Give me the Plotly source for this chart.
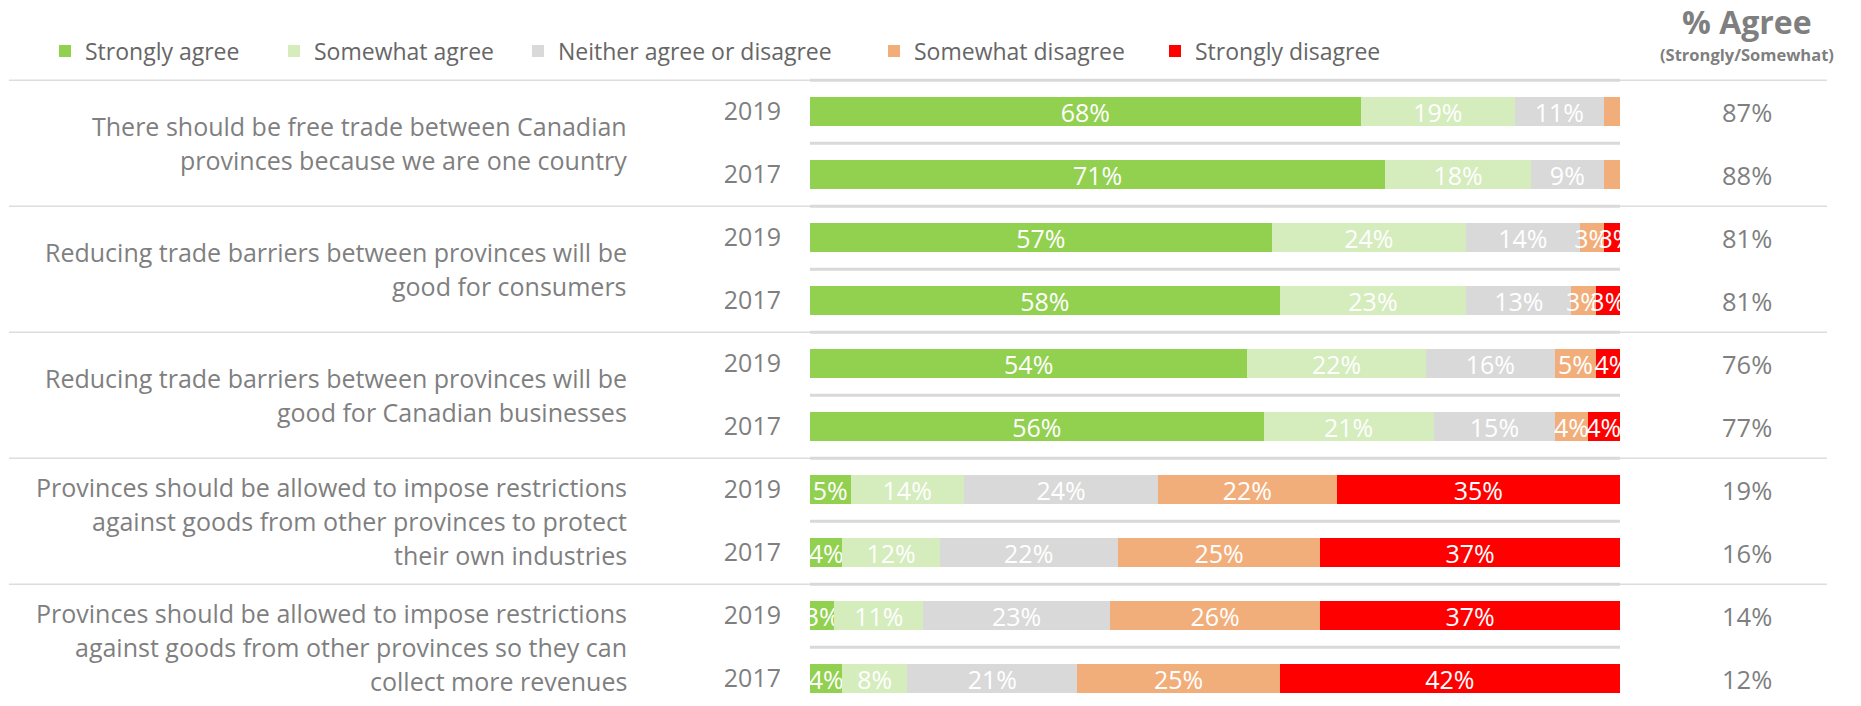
import plotly.graph_objects as go

# ---------------- data ----------------
questions = [
    ["There should be free trade between Canadian", "provinces because we are one country"],
    ["Reducing trade barriers between provinces will be", "good for consumers"],
    ["Reducing trade barriers between provinces will be", "good for Canadian businesses"],
    ["Provinces should be allowed to impose restrictions",
     "against goods from other provinces to protect", "their own industries"],
    ["Provinces should be allowed to impose restrictions",
     "against goods from other provinces so they can", "collect more revenues"],
]
years = ["2019", "2017"] * 5

series_names = ["Strongly agree", "Somewhat agree", "Neither agree or disagree",
                "Somewhat disagree", "Strongly disagree"]
series_colors = ["#92D050", "#D5ECBD", "#D9D9D9", "#F2AE7A", "#FF0000"]

strongly_agree    = [68, 71, 57, 58, 54, 56, 5, 4, 3, 4]
somewhat_agree    = [19, 18, 24, 23, 22, 21, 14, 12, 11, 8]
neither           = [11, 9, 14, 13, 16, 15, 24, 22, 23, 21]
somewhat_disagree = [2, 2, 3, 3, 5, 4, 22, 25, 26, 25]
strongly_disagree = [0, 0, 3, 3, 4, 4, 35, 37, 37, 42]

pct_agree = [87, 88, 81, 81, 76, 77, 19, 16, 14, 12]

series_values = [strongly_agree, somewhat_agree, neither, somewhat_disagree, strongly_disagree]

# ---------------- layout helpers ----------------
W, H = 1861, 706
L, R, T, B = 810, 241, 77, 0
plot_w = W - L - R
plot_h = H - T - B


def px_to_paper_x(px):
    return (px - L) / plot_w


FONT = "'Open Sans', 'Noto Sans', sans-serif"
GREY = "#7F7F7F"

rows = list(range(len(years)))

fig = go.Figure()

legend_left_px = [59, 288, 532, 888, 1169]
legend_ids = ["legend", "legend2", "legend3", "legend4", "legend5"]

for name, color, vals, lid in zip(series_names, series_colors, series_values, legend_ids):
    fig.add_trace(go.Bar(
        y=rows,
        x=vals,
        orientation="h",
        name=name,
        marker=dict(color=color, line=dict(width=0)),
        width=0.46,
        text=[f"{v}%" if v >= 3 else "" for v in vals],
        textposition="inside",
        insidetextanchor="middle",
        textangle=0,
        constraintext="none",
        textfont=dict(family=FONT, size=25, color="white"),
        cliponaxis=True,
        legend=lid,
        hoverinfo="skip",
    ))

# legends (one per series, placed like the reference)
legend_layout = {}
for lid, lpx in zip(legend_ids, legend_left_px):
    legend_layout[lid] = dict(
        orientation="h",
        x=px_to_paper_x(lpx - 14),
        xanchor="left",
        y=1 + (T - 51) / plot_h,
        yanchor="middle",
        font=dict(family=FONT, size=23, color="#666666"),
        bgcolor="rgba(0,0,0,0)",
        borderwidth=0,
        traceorder="normal",
    )

annotations = []
# question labels (one annotation per line for Excel-like line spacing)
LINE_PITCH = 34
for g, lines in enumerate(questions):
    n = len(lines)
    for i, line in enumerate(lines):
        annotations.append(dict(
            text=line, xref="paper", yref="y",
            x=px_to_paper_x(629), y=2 * g + 0.5,
            yshift=-(i - (n - 1) / 2) * LINE_PITCH,
            xanchor="right", yanchor="middle", align="right",
            showarrow=False,
            font=dict(family=FONT, size=25, color=GREY),
        ))
# % agree values
for r, v in zip(rows, pct_agree):
    annotations.append(dict(
        text=f"{v}%", xref="paper", yref="y",
        x=px_to_paper_x(1747), y=r,
        xanchor="center", yanchor="middle", showarrow=False,
        font=dict(family=FONT, size=25.5, color=GREY),
    ))
# header
annotations.append(dict(
    text="<b>% Agree</b>", xref="paper", yref="paper",
    x=px_to_paper_x(1747), y=1 + (T - 21) / plot_h,
    xanchor="center", yanchor="middle", showarrow=False,
    font=dict(family=FONT, size=32, color=GREY),
))
annotations.append(dict(
    text="<b>(Strongly/Somewhat)</b>", xref="paper", yref="paper",
    x=px_to_paper_x(1747), y=1 + (T - 55) / plot_h,
    xanchor="center", yanchor="middle", showarrow=False,
    font=dict(family=FONT, size=16.5, color=GREY),
))

shapes = []
# group separators (full width, thin)
for yb in [-0.5, 1.5, 3.5, 5.5, 7.5]:
    shapes.append(dict(type="line", xref="paper", yref="y",
                       x0=px_to_paper_x(9), x1=px_to_paper_x(1827), y0=yb, y1=yb,
                       line=dict(color="#DDDDDD", width=1.5)))
# separators across the bar area (thicker)
for yb in [-0.5, 0.5, 1.5, 2.5, 3.5, 4.5, 5.5, 6.5, 7.5, 8.5]:
    shapes.append(dict(type="line", xref="paper", yref="y",
                       x0=0, x1=1, y0=yb, y1=yb,
                       line=dict(color="#D9D9D9", width=3)))

fig.update_layout(
    width=W, height=H,
    margin=dict(l=L, r=R, t=T, b=B, pad=0),
    barmode="stack",
    plot_bgcolor="white", paper_bgcolor="white",
    showlegend=True,
    xaxis=dict(range=[0, 100], visible=False, fixedrange=True),
    yaxis=dict(range=[9.434, -0.55], tickmode="array", tickvals=rows, ticktext=years,
               showgrid=False, zeroline=False, showline=False, ticks="",
               ticklabelstandoff=28,
               tickfont=dict(family=FONT, size=25, color=GREY), fixedrange=True),
    annotations=annotations,
    shapes=shapes,
    **legend_layout,
)

fig.write_html("out.html")
